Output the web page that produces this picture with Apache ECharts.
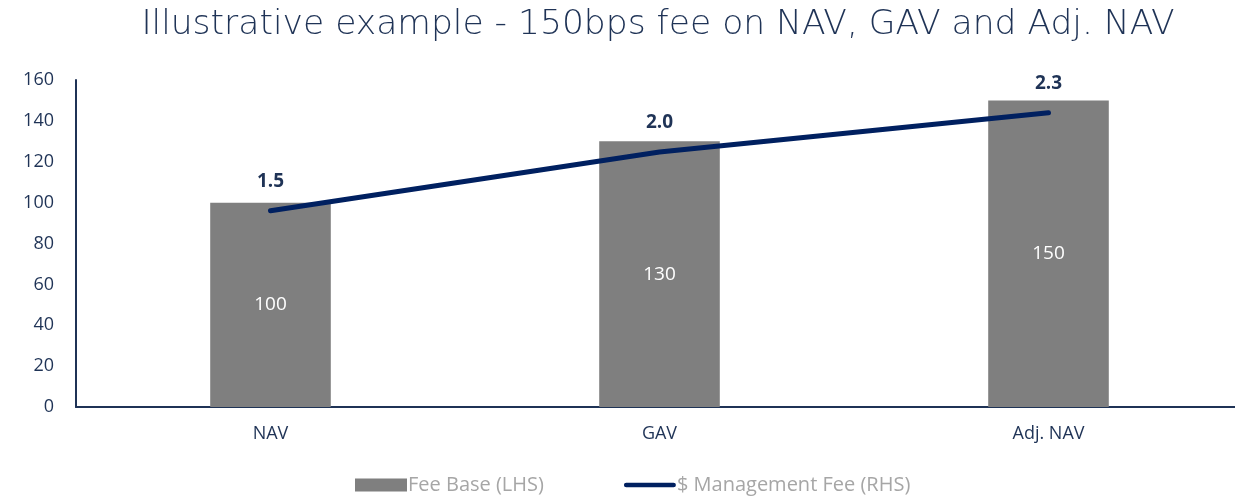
<!DOCTYPE html>
<html>
<head>
<meta charset="utf-8">
<script src="https://cdn.jsdelivr.net/npm/echarts@6/dist/echarts.min.js"></script>
<style>
  html, body { margin: 0; padding: 0; background: #fff; }
  #chart { width: 1235px; height: 503px; }
</style>
</head>
<body>
<div id="chart"></div>
<script>
// data
var categories = ["NAV", "GAV", "Adj. NAV"];
var feeBase = [100, 130, 150];
var mgmtFee = [1.5, 1.95, 2.25];
var leftTicks = [0, 20, 40, 60, 80, 100, 120, 140, 160];

var navy = "#1f3356";
var font = "Open Sans";

var chart = echarts.init(document.getElementById("chart"));
chart.setOption({
  animation: false,
  textStyle: { fontFamily: font },
  title: {
    text: "Illustrative example - 150bps fee on NAV, GAV and Adj. NAV",
    left: 653,
    textAlign: "center",
    top: 3,
    textStyle: { color: navy, fontSize: 34.5, fontWeight: "lighter", fontFamily: "DejaVu Sans" }
  },
  legend: {
    bottom: 3,
    left: 350,
    itemGap: 80,
    itemWidth: 52,
    itemHeight: 13,
    textStyle: { color: "#a6a6a6", fontSize: 20, padding: [0, 0, 0, -4] },
    data: [
      { name: "Fee Base (LHS)", icon: "rect" },
      { name: "$ Management Fee (RHS)", icon: "path://M2.5,0 L52.5,0 A2.5,2.5 0 0 1 52.5,5 L2.5,5 A2.5,2.5 0 0 1 2.5,0 Z" }
    ]
  },
  grid: { left: 76, top: 80, width: 1167, bottom: 96, outerBoundsMode: "none" },
  xAxis: {
    type: "category",
    data: categories,
    axisLine: { lineStyle: { color: navy, width: 2 } },
    axisTick: { show: false },
    axisLabel: { color: navy, fontSize: 18, margin: 18 }
  },
  yAxis: [
    {
      type: "value",
      min: leftTicks[0],
      max: leftTicks[leftTicks.length - 1],
      interval: 20,
      splitLine: { show: false },
      axisLine: { show: true, lineStyle: { color: navy, width: 2 } },
      axisTick: { show: false },
      axisLabel: { color: navy, fontSize: 18, margin: 22 }
    },
    {
      type: "value",
      min: 0,
      max: 2.5,
      show: false
    }
  ],
  series: [
    {
      name: "Fee Base (LHS)",
      type: "bar",
      data: feeBase,
      barWidth: "31%",
      itemStyle: { color: "#7f7f7f" },
      label: {
        show: true,
        position: "inside",
        color: "#fff",
        fontSize: 19
      }
    },
    {
      name: "$ Management Fee (RHS)",
      type: "line",
      yAxisIndex: 1,
      data: mgmtFee,
      showSymbol: true,
      symbol: "circle",
      symbolSize: 0.1,
      lineStyle: { color: "#002060", width: 5, cap: "round" },
      itemStyle: { color: "#002060" },
      label: {
        show: true,
        position: "top",
        distance: 20,
        color: navy,
        fontSize: 19,
        fontWeight: "bold",
        formatter: function (p) { return (Math.round(p.value * 10) / 10).toFixed(1); }
      }
    }
  ]
});
</script>
</body>
</html>
